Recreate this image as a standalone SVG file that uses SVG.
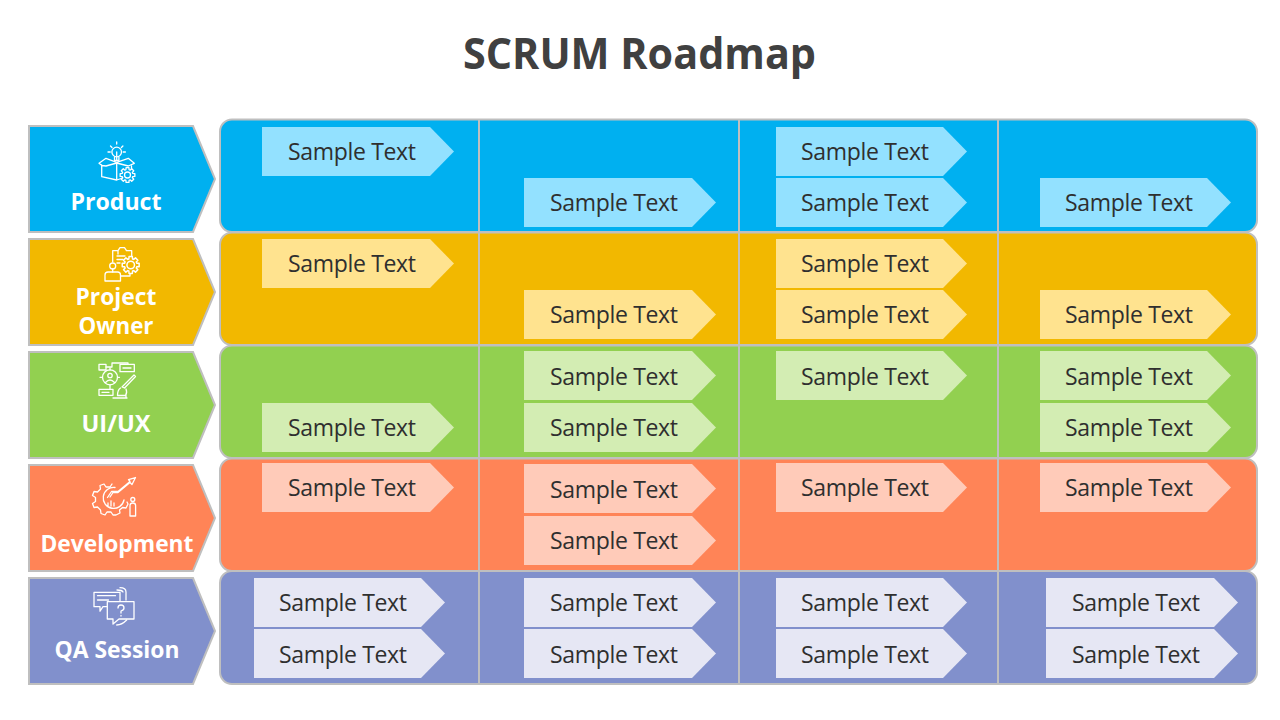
<svg xmlns="http://www.w3.org/2000/svg" width="1280" height="720" viewBox="0 0 1280 720">
<style>
text{font-family:"Open Sans","Noto Sans","Liberation Sans",sans-serif}
.title{font-size:43px;font-weight:700;fill:#404040;text-anchor:middle}
.lab{font-size:23.5px;font-weight:700;fill:#fff;text-anchor:middle}
.t{font-size:23px;fill:#2f2f2f;text-anchor:middle}
.bd{stroke:#bfbfbf;stroke-width:2}
.ic{fill:none;stroke:#fff;stroke-width:1.3;stroke-linejoin:round;stroke-linecap:round}
.c1{fill:#93e1ff}.c2{fill:#ffe38f}.c3{fill:#d3edb3}.c4{fill:#ffcbb9}.c5{fill:#e6e7f4}
</style>
<defs>
<polygon id="chip" points="0,0 168,0 192,24.500 168,49 0,49"/>
<polygon id="chipn" points="0,0 167,0 191,24.500 167,49 0,49"/>
<path id="teeth" d="M5.26,-1.61L7.36,-1.43 7.36,1.43 5.26,1.61 4.86,2.58 6.22,4.19 4.19,6.22 2.58,4.86 1.61,5.26 1.43,7.36 -1.43,7.36 -1.61,5.26 -2.58,4.86 -4.19,6.22 -6.22,4.19 -4.86,2.58 -5.26,1.61 -7.36,1.43 -7.36,-1.43 -5.26,-1.61 -4.86,-2.58 -6.22,-4.19 -4.19,-6.22 -2.58,-4.86 -1.61,-5.26 -1.43,-7.36 1.43,-7.36 1.61,-5.26 2.58,-4.86 4.19,-6.22 6.22,-4.19 4.86,-2.58Z"/>
</defs>
<rect width="1280" height="720" fill="#fff"/>
<text class="title" x="639.500" y="69" textLength="353" lengthAdjust="spacingAndGlyphs">SCRUM Roadmap</text>

<g id="bands">
<path class="bd" fill="#00b0f0" d="M232,119.500H1245a12,12 0 0 1 12,12V220a12,12 0 0 1-12,12H232a12,12 0 0 1-12-12V131.500a12,12 0 0 1 12-12Z"/>
<path class="bd" fill="#f2b800" d="M232,232.500H1245a12,12 0 0 1 12,12V333a12,12 0 0 1-12,12H232a12,12 0 0 1-12-12V244.500a12,12 0 0 1 12-12Z"/>
<path class="bd" fill="#92d050" d="M232,345.500H1245a12,12 0 0 1 12,12V446a12,12 0 0 1-12,12H232a12,12 0 0 1-12-12V357.500a12,12 0 0 1 12-12Z"/>
<path class="bd" fill="#ff8457" d="M232,458.500H1245a12,12 0 0 1 12,12V559a12,12 0 0 1-12,12H232a12,12 0 0 1-12-12V470.500a12,12 0 0 1 12-12Z"/>
<path class="bd" fill="#8190cc" d="M232,571H1245a12,12 0 0 1 12,12V672a12,12 0 0 1-12,12H232a12,12 0 0 1-12-12V583a12,12 0 0 1 12-12Z"/>
</g>
<g id="connectors">
<path class="bd" fill="none" d="M479,120V684M739,120V684M998,120V684"/>
</g>

<g id="product">
<polygon class="bd" fill="#00b0f0" points="29,126 193,126 215,179 193,232 29,232"/>
<g class="ic">
<circle cx="116.700" cy="152" r="4.800"/><path d="M114.500,157v3.500h4.400V157M116.700,152v8.500M116.700,144v-2M108,152h2.200M123.200,152h2.200M110.500,146l1.500,1.500M122.900,146l-1.500,1.500"/>
<path d="M99,163.300l7,-5 10.700,4 11.600,-4 6,5 -6,2.700 -11.600,-3 -10.700,3 -4,-.5ZM101.700,165v11.700l15,3.300v-17M116.700,180l6,-2M131.500,166v3"/>
<use href="#teeth" x="127.500" y="175"/><circle cx="127.500" cy="175" r="3"/>
</g>
<text class="lab" x="116" y="210" textLength="91" lengthAdjust="spacingAndGlyphs">Product</text>
</g>

<g id="project-owner">
<polygon class="bd" fill="#f2b800" points="29,239 193,239 215,292 193,345 29,345"/>
<g class="ic">
<path d="M112.700,262v-11.300h5.300l2,-3h4.500l2,3h5.200v5M118,254v-3.300M117,256h8M117,259.500h6M117,263h3"/>
<circle cx="112.700" cy="266" r="3"/><path d="M112.700,269v3"/>
<path d="M105,281v-6q0,-3 3,-3h9.500q3,0 3,3v6ZM120.500,276h9.500v-2"/>
<g transform="translate(130.700 265) scale(1.15)"><use href="#teeth"/><circle r="3.300"/></g>
</g>
<text class="lab" x="116" y="305" textLength="81" lengthAdjust="spacingAndGlyphs">Project</text>
<text class="lab" x="116" y="334" textLength="75" lengthAdjust="spacingAndGlyphs">Owner</text>
</g>

<g id="ui-ux">
<polygon class="bd" fill="#92d050" points="29,352 193,352 215,405 193,458 29,458"/>
<g class="ic">
<rect x="99" y="364.300" width="7" height="5.700"/><rect x="120" y="364.300" width="14.300" height="7.400"/>
<path d="M106,367h6v-4h16v1M123,368h8"/>
<circle cx="110" cy="377.300" r="7.500"/><circle cx="110" cy="375.500" r="2.200"/><path d="M105.500,382.500q4.500,-5 9,0M110,370v-2M110,385v4M100,377.300h2.500M117.500,377.300h2"/>
<rect x="99" y="389.300" width="14" height="6"/><path d="M102,392.300h7"/>
<path d="M113,398h14M122,387l12,-12 1.500,1.500 -11,11.500ZM120.500,388q-3,2 -3,7.500h8q2,-3 .5,-6.500M126,395.500v2.500"/>
</g>
<text class="lab" x="116" y="432" textLength="69" lengthAdjust="spacingAndGlyphs">UI/UX</text>
</g>

<g id="development">
<polygon class="bd" fill="#ff8457" points="29,465 193,465 215,518 193,571 29,571"/>
<g class="ic">
<path d="M127,502l1,2 -2,4 -3.500,-.5 -3,2.500 .5,3 -4,2h-3l-2,-3h-4l-2,3 -4,-1.500 -.5,-3.500 -3,-3 -3.500,.5 -1.500,-4 3,-2v-4l-3,-2 1.500,-4 3.500,.5 3,-3 -.5,-3.500 4,-1.500 2,3h4l2,-3"/>
<path d="M124,500a10.500,10.500 0 1 1-9,-12.500M110,497l3,-4.500h5l12,-10 2,2 3.500,-7 -7,2 1.500,2 -12,10h-6.500l-4,6M108,506v-3M111,506v-5M114,506v-3"/>
<circle cx="132.800" cy="499.500" r="2"/><path d="M130,516v-10.500q0,-2.500 2.800,-2.500t2.800,2.500V516Z"/>
</g>
<text class="lab" x="117" y="552" textLength="153" lengthAdjust="spacingAndGlyphs">Development</text>
</g>

<g id="qa-session">
<polygon class="bd" fill="#8190cc" points="29,578 193,578 215,631 193,684 29,684"/>
<g class="ic">
<path d="M107,606.700h-4l-3,4.500v-4.500h-6v-14.400h26v9M97.500,595.700h18M97.500,600h11M120,587.700q6,0 6,4.300v8M117,590q5,0 6,2"/>
<path d="M107.300,601.700h26.700v17.300h-15l-6,5v-5h-5.700Z"/>
<path d="M118,608q0,-3 3,-3t3,3q0,2 -3,3v2M121,615.500v.5M116.700,625q5,0 10,-5"/>
</g>
<text class="lab" x="117" y="658" textLength="125" lengthAdjust="spacingAndGlyphs">QA Session</text>
</g>

<g id="chips-product">
<g id="c1a"><use href="#chip" x="262" y="127" class="c1"/><text class="t" x="352" y="160" textLength="128">Sample Text</text></g>
<g id="c1b"><use href="#chip" x="524" y="178" class="c1"/><text class="t" x="614" y="211" textLength="128">Sample Text</text></g>
<g id="c1c"><use href="#chipn" x="776" y="127" class="c1"/><text class="t" x="865" y="160" textLength="128">Sample Text</text></g>
<g id="c1d"><use href="#chipn" x="776" y="178" class="c1"/><text class="t" x="865" y="211" textLength="128">Sample Text</text></g>
<g id="c1e"><use href="#chipn" x="1040" y="178" class="c1"/><text class="t" x="1129" y="211" textLength="128">Sample Text</text></g>
</g>
<g id="chips-owner">
<g id="c2a"><use href="#chip" x="262" y="239" class="c2"/><text class="t" x="352" y="272" textLength="128">Sample Text</text></g>
<g id="c2b"><use href="#chip" x="524" y="290" class="c2"/><text class="t" x="614" y="323" textLength="128">Sample Text</text></g>
<g id="c2c"><use href="#chipn" x="776" y="239" class="c2"/><text class="t" x="865" y="272" textLength="128">Sample Text</text></g>
<g id="c2d"><use href="#chipn" x="776" y="290" class="c2"/><text class="t" x="865" y="323" textLength="128">Sample Text</text></g>
<g id="c2e"><use href="#chipn" x="1040" y="290" class="c2"/><text class="t" x="1129" y="323" textLength="128">Sample Text</text></g>
</g>
<g id="chips-ui">
<g id="c3a"><use href="#chip" x="262" y="403" class="c3"/><text class="t" x="352" y="436" textLength="128">Sample Text</text></g>
<g id="c3b"><use href="#chip" x="524" y="351" class="c3"/><text class="t" x="614" y="385" textLength="128">Sample Text</text></g>
<g id="c3c"><use href="#chip" x="524" y="403" class="c3"/><text class="t" x="614" y="436" textLength="128">Sample Text</text></g>
<g id="c3d"><use href="#chipn" x="776" y="351" class="c3"/><text class="t" x="865" y="385" textLength="128">Sample Text</text></g>
<g id="c3e"><use href="#chipn" x="1040" y="351" class="c3"/><text class="t" x="1129" y="385" textLength="128">Sample Text</text></g>
<g id="c3f"><use href="#chipn" x="1040" y="403" class="c3"/><text class="t" x="1129" y="436" textLength="128">Sample Text</text></g>
</g>
<g id="chips-dev">
<g id="c4a"><use href="#chip" x="262" y="463" class="c4"/><text class="t" x="352" y="496" textLength="128">Sample Text</text></g>
<g id="c4b"><use href="#chip" x="524" y="464" class="c4"/><text class="t" x="614" y="498" textLength="128">Sample Text</text></g>
<g id="c4c"><use href="#chip" x="524" y="516" class="c4"/><text class="t" x="614" y="549" textLength="128">Sample Text</text></g>
<g id="c4d"><use href="#chipn" x="776" y="463" class="c4"/><text class="t" x="865" y="496" textLength="128">Sample Text</text></g>
<g id="c4e"><use href="#chipn" x="1040" y="463" class="c4"/><text class="t" x="1129" y="496" textLength="128">Sample Text</text></g>
</g>
<g id="chips-qa">
<g id="c5a"><use href="#chipn" x="254" y="578" class="c5"/><text class="t" x="343" y="611" textLength="128">Sample Text</text></g>
<g id="c5b"><use href="#chipn" x="254" y="629" class="c5"/><text class="t" x="343" y="663" textLength="128">Sample Text</text></g>
<g id="c5c"><use href="#chip" x="524" y="578" class="c5"/><text class="t" x="614" y="611" textLength="128">Sample Text</text></g>
<g id="c5d"><use href="#chip" x="524" y="629" class="c5"/><text class="t" x="614" y="663" textLength="128">Sample Text</text></g>
<g id="c5e"><use href="#chipn" x="776" y="578" class="c5"/><text class="t" x="865" y="611" textLength="128">Sample Text</text></g>
<g id="c5f"><use href="#chipn" x="776" y="629" class="c5"/><text class="t" x="865" y="663" textLength="128">Sample Text</text></g>
<g id="c5g"><use href="#chip" x="1046" y="578" class="c5"/><text class="t" x="1136" y="611" textLength="128">Sample Text</text></g>
<g id="c5h"><use href="#chip" x="1046" y="629" class="c5"/><text class="t" x="1136" y="663" textLength="128">Sample Text</text></g>
</g>
</svg>
